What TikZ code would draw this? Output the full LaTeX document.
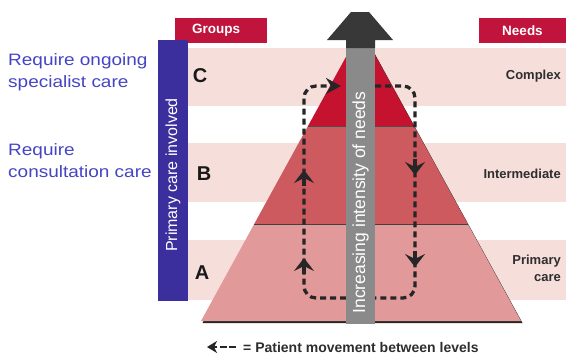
\documentclass[tikz,border=0pt]{standalone}
\usepackage{fontspec}
\setmainfont{Liberation Sans}
\usetikzlibrary{arrows.meta}
\definecolor{crim}{HTML}{C0143C}
\definecolor{bandpink}{HTML}{F6DEDB}
\definecolor{tierC}{HTML}{C5122F}
\definecolor{tierB}{HTML}{CC5A5E}
\definecolor{tierA}{HTML}{E19A99}
\definecolor{sidebar}{HTML}{3A2F9C}
\definecolor{lefttext}{HTML}{4545C4}
\definecolor{shaft}{HTML}{8A8A8A}
\definecolor{head}{HTML}{383838}
\definecolor{darktext}{HTML}{2E2E2E}
\tikzset{
  band/.style={fill=bandpink},
  hdrbox/.style={fill=crim, text=white, inner sep=0pt, font=\bfseries\fontsize{13.5}{15}\selectfont},
  grp/.style={font=\bfseries\fontsize{20}{22}\selectfont, text=black!90, inner sep=0pt},
  need/.style={font=\bfseries\fontsize{13}{15}\selectfont, text=darktext, inner sep=0pt},
  lefttxt/.style={font=\fontsize{16.5}{20}\selectfont, text=lefttext, inner sep=0pt, xscale=1.15},
  loopline/.style={line width=3.3pt, dash pattern=on 6pt off 4pt, black!85, rounded corners=12pt},
  tipline/.style={line width=3.3pt, black!85, -{Stealth[length=13pt,width=20pt,inset=5pt]}},
}
\begin{document}
\begin{tikzpicture}[x=1pt,y=-1pt]
\useasboundingbox (0,0) rectangle (566,354);
\fill[white] (0,0) rectangle (566,354);

% bands
\fill[band] (188,48) rectangle (566,106);
\fill[band] (188,143) rectangle (566,202);
\fill[band] (188,240) rectangle (566,300);

% header boxes
\node[hdrbox, minimum width=92pt, minimum height=25pt, text width=84pt, align=left] (groups) at (221,30.5) {\hspace*{13pt}Groups};
\node[hdrbox, minimum width=87pt, minimum height=25pt] (needs) at (522.5,30.5) {Needs};

% sidebar
\fill[sidebar] (158,40) rectangle (188,301);
\node[rotate=90, text=white, font=\fontsize{16}{18}\selectfont, inner sep=0pt] (primary) at (173,175) {Primary care involved};

% left texts
\node[lefttxt, anchor=base west] (req1a) at (8,65) {Require ongoing};
\node[lefttxt, anchor=base west] (req1b) at (8,87) {specialist care};
\node[lefttxt, anchor=base west] (req2a) at (8,155) {Require};
\node[lefttxt, anchor=base west] (req2b) at (8,177) {consultation care};

% pyramid shadow
\fill[black!85] (362.5,31.5) -- (522.5,323) -- (202.5,323) -- cycle;
% tiers
\fill[tierA] (254.2,224) -- (467.8,224) -- (521,321) -- (201,321) -- cycle;
\fill[tierB] (308,126) -- (414,126) -- (467.8,224) -- (254.2,224) -- cycle;
\fill[tierC] (361,29.5) -- (414,126) -- (308,126) -- cycle;
\draw[black!70, line width=1pt] (308,126) -- (414,126);
\draw[black!75, line width=1pt] (254.2,224) -- (467.8,224);

% group letters
\node[grp] (C) at (200,75.5) {C};
\node[grp] (B) at (204,173.5) {B};
\node[grp] (A) at (202,272.5) {A};

% needs labels
\node[need, anchor=east] (complex) at (561,76) {Complex};
\node[need, anchor=east] (inter) at (561,174) {Intermediate};
\node[need, anchor=east, align=right, font=\bfseries\fontsize{13}{17}\selectfont] (prim) at (561,268) {Primary\\care};

% dashed loop
\coordinate (lb) at (346,298);
\coordinate (ltc) at (304,86);
\coordinate (ltop) at (341,86);
\coordinate (rt) at (375,86);
\coordinate (rbc) at (415,298);
\coordinate (rb) at (375,298);
\draw[loopline, -{Stealth[length=15pt,width=16pt,inset=5pt]}] (lb) -| (ltc) -- (ltop);
\draw[loopline] (rt) -| (rbc) -- (rb);
\coordinate (lu1s) at (304,186); \coordinate (lu1) at (304,170);
\coordinate (lu2s) at (304,274); \coordinate (lu2) at (304,258);
\coordinate (rd1s) at (415,159); \coordinate (rd1) at (415,175);
\coordinate (rd2s) at (415,251); \coordinate (rd2) at (415,267);
\draw[tipline] (lu1s) -- (lu1);
\draw[tipline] (lu2s) -- (lu2);
\draw[tipline] (rd1s) -- (rd1);
\draw[tipline] (rd2s) -- (rd2);

% central arrow
\fill[shaft] (346,48) rectangle (375,324);
\fill[head] (351,12) -- (369,12) -- (393,40) -- (375,40) -- (375,48) -- (346,48) -- (346,40) -- (327,40) -- cycle;
\node[rotate=90, text=white, font=\fontsize{17.5}{20}\selectfont, inner sep=0pt] (intens) at (360.5,202.5) {Increasing intensity of needs};

% legend
\coordinate (legs) at (236,347);
\coordinate (lege) at (207,347);
\draw[line width=2.8pt, black!85, dash pattern=on 7pt off 2.5pt, -{Stealth[length=10pt,width=12pt,inset=3pt]}] (legs) -- (lege);
\node[anchor=base west, inner sep=0pt, text=darktext, font=\bfseries\fontsize{14}{16}\selectfont] (legend) at (243,352) {= Patient movement between levels};
\end{tikzpicture}
\end{document}
